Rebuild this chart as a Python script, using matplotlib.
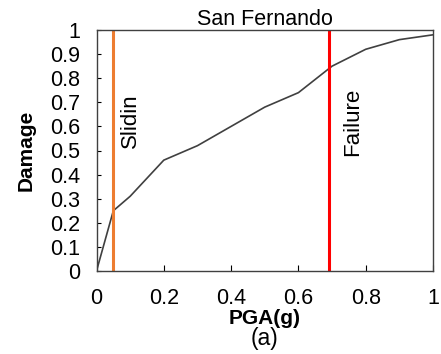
import numpy as np
import matplotlib.pyplot as plt

plt.rcParams['font.family'] = ['Liberation Sans', 'DejaVu Sans']

pga = [0.0, 0.05, 0.1, 0.2, 0.3, 0.4, 0.5, 0.6, 0.7, 0.8, 0.9, 1.0]
damage = [0.0, 0.25, 0.31, 0.46, 0.52, 0.60, 0.68, 0.74, 0.85, 0.92, 0.96, 0.98]
sliding_pga = 0.05
failure_pga = 0.69
xticks = [0, 0.2, 0.4, 0.6, 0.8, 1]
yticks = [0, 0.1, 0.2, 0.3, 0.4, 0.5, 0.6, 0.7, 0.8, 0.9, 1]

fig = plt.figure(figsize=(4.41, 3.54), dpi=100)
ax = fig.add_axes([96.5 / 441, 1 - 271 / 354, (433 - 96.5) / 441, (271 - 30) / 354])

ax.plot(pga, damage, color='#404040', linewidth=1.2)
ax.axvline(sliding_pga, color='#ED7D31', linewidth=2.2)
ax.axvline(failure_pga, color='#FF0000', linewidth=2.2)
ax.text(sliding_pga + 0.02, 0.625, 'Slidin', rotation=90, fontsize=16, va='center', ha='left')
ax.text(failure_pga + 0.04, 0.62, 'Failure', rotation=90, fontsize=16, va='center', ha='left')

ax.set_xlim(0, 1)
ax.set_ylim(0, 1)
ax.set_xticks(xticks)
ax.set_xticklabels([f'{t:g}' for t in xticks])
ax.set_yticks(yticks)
ax.set_yticklabels([f'{t:g}' for t in yticks])
ax.tick_params(axis='x', direction='in', length=4, pad=12, labelsize=15.5)
ax.tick_params(axis='y', direction='in', length=3, pad=12, labelsize=15.5)
for s in ax.spines.values():
    s.set_color('#404040')
    s.set_linewidth(1.0)

ax.set_title('San Fernando', fontsize=15.5, pad=3)
ax.set_xlabel('PGA(g)', fontsize=15, fontweight='bold', labelpad=0)
ax.set_ylabel('Damage', fontsize=15, fontweight='bold', labelpad=10)
fig.text((96.5 + 433) / 2 / 441, 1 - 339 / 354, '(a)', fontsize=16.5, ha='center', va='center')

fig.savefig('out.png', dpi=100)
